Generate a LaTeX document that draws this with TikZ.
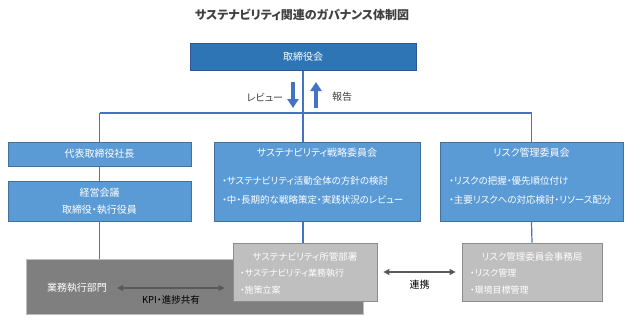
\documentclass[tikz,border=0pt]{standalone}
\usepackage{fontspec}
\setmainfont{Noto Sans CJK JP}[RawFeature=+palt]
\usetikzlibrary{arrows.meta,backgrounds}
\definecolor{boardblue}{HTML}{2E75B6}
\definecolor{boardedge}{HTML}{2F5597}
\definecolor{boxblue}{HTML}{5B9BD5}
\definecolor{edgeblue}{HTML}{41719C}
\definecolor{linkblue}{HTML}{4472C4}
\definecolor{darkgrey}{HTML}{7F7F7F}
\definecolor{lightgrey}{HTML}{BFBFBF}
\definecolor{greyedge}{HTML}{8C8C8C}
\definecolor{arrowgrey}{HTML}{595959}
\definecolor{textgrey}{HTML}{404040}
\begin{document}
\begin{tikzpicture}[x=1pt,y=-1pt,
  every node/.style={font=\fontsize{10}{12}\selectfont,inner sep=0pt,text=textgrey},
  bluebox/.style={draw=edgeblue,fill=boxblue,line width=0.8pt},
  greybox/.style={draw=greyedge,fill=lightgrey,line width=0.8pt},
  boxtext/.style={text=white},
  listtext/.style={text=white,align=left,anchor=west,font=\fontsize{9.5}{19}\selectfont},
  smalllist/.style={text=white,align=left,anchor=west,font=\fontsize{9}{17}\selectfont},
  orgline/.style={draw=linkblue,line width=1.2pt},
  blockarrow/.style={draw=linkblue,line width=4.5pt,-{Triangle[length=9pt,width=11pt]}},
  twoway/.style={draw=arrowgrey,line width=1.2pt,{Triangle[length=6pt,width=6pt]}-{Triangle[length=6pt,width=6pt]}}]
\useasboundingbox (0,0) rectangle (641,330);
% title
\node[font=\fontsize{12}{14}\selectfont\bfseries] (title) at (302,15) {サステナビリティ関連のガバナンス体制図};
% board
\node[draw=boardedge,fill=boardblue,line width=0.8pt,minimum width=226pt,minimum height=27pt,boxtext] (board) at (303,56.5) {取締役会};
\coordinate (bus) at (0,113);
\coordinate (revtop) at (293,82);
\coordinate (revbot) at (293,108);
\coordinate (reptop) at (316,82);
\coordinate (repbot) at (316,108);
\draw[blockarrow] (revtop) -- (revbot);
\draw[blockarrow] (repbot) -- (reptop);
\node (revlbl) at (265,97) {レビュー};
\node (replbl) at (342,97) {報告};
% left column
\node[bluebox,minimum width=183pt,minimum height=24pt,boxtext] (pres) at (99.5,154) {代表取締役社長};
\node[bluebox,minimum width=183pt,minimum height=40pt,boxtext,align=center,font=\fontsize{10}{17}\selectfont] (keiei) at (99.5,201) {経営会議\\取締役・執行役員};
% strategy committee
\node[bluebox,minimum width=206pt,minimum height=79pt] (strat) at (317,181.5) {};
\node[boxtext] (stratttl) at (317,153) {サステナビリティ戦略委員会};
\node[listtext] (stratlist) at (222,190.5) {・サステナビリティ活動全体の方針の検討\\・中・長期的な戦略策定・実践状況のレビュー};
% risk committee
\node[bluebox,minimum width=183pt,minimum height=79pt] (risk) at (531.5,181.5) {};
\node[boxtext] (riskttl) at (531.5,153) {リスク管理委員会};
\node[listtext] (risklist) at (449,190.5) {・リスクの把握・優先順位付け\\・主要リスクへの対応検討・リソース配分};
% execution layer
\node[draw=lightgrey,fill=darkgrey,line width=0.8pt,minimum width=337pt,minimum height=55pt] (gyomu) at (194.5,286.5) {};
\node[boxtext] (gyomulbl) at (77,288) {業務執行部門};
\node[greybox,minimum width=144pt,minimum height=58pt] (sust) at (305,272) {};
\node[boxtext,font=\fontsize{9.5}{12}\selectfont] (sustttl) at (305,257) {サステナビリティ所管部署};
\node[smalllist] (sustlist) at (240,281.5) {・サステナビリティ業務執行\\・施策立案};
\node[greybox,minimum width=140pt,minimum height=58pt] (office) at (532,272) {};
\node[boxtext,font=\fontsize{9.5}{12}\selectfont] (officettl) at (532,257) {リスク管理委員会事務局};
\node[smalllist] (officelist) at (470,281.5) {・リスク管理\\・環境目標管理};
% two-way links
\draw[twoway] ([xshift=10pt]gyomulbl.east) -- ([xshift=-8pt]sust.west |- gyomulbl) node[midway,below=7pt,font=\fontsize{9.5}{12}\selectfont,text=black] (kpilbl) {KPI・進捗共有};
\draw[twoway] ([xshift=6pt]sust.east) -- ([xshift=-6pt]office.west) node[midway,below=7pt,text=black] (renlbl) {連携};
% connectors
\begin{pgfonlayer}{background}
\draw[orgline] (board.south) -- (board.south |- sust.north);
\draw[orgline] (pres.north |- bus) -- (risk.north |- bus);
\draw[orgline] (pres.north |- bus) -- (pres.north);
\draw[orgline] (risk.north |- bus) -- (risk.north);
\draw[orgline] (pres.south) -- (keiei.north);
\draw[orgline] (keiei.south) -- (keiei.south |- gyomu.north);
\draw[orgline] (risk.south) -- (office.north);
\end{pgfonlayer}
\end{tikzpicture}
\end{document}
